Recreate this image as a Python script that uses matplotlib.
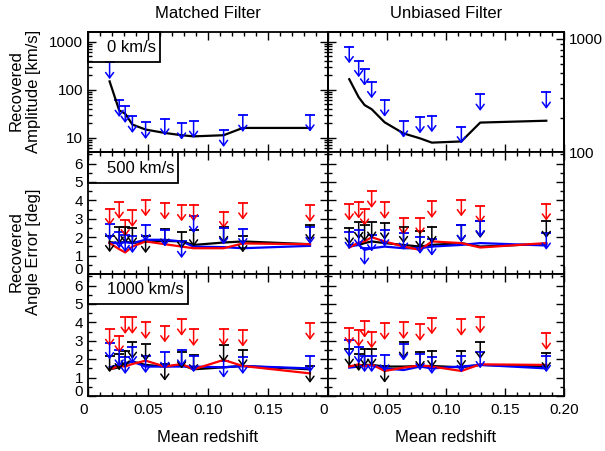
import numpy as np
import matplotlib
matplotlib.use('Agg')
import matplotlib.pyplot as plt
from matplotlib.transforms import offset_copy
from matplotlib.ticker import MultipleLocator, FixedLocator, FuncFormatter, NullFormatter
from matplotlib.patches import Rectangle

plt.rcParams['font.family'] = ['Liberation Sans', 'DejaVu Sans']
plt.rcParams['font.size'] = 11

# mean redshift of each bin
z = [0.018, 0.026, 0.031, 0.037, 0.048, 0.064, 0.078, 0.088, 0.113, 0.129, 0.185]

# 0 km/s : recovered amplitude (line) and upper limits (blue arrows)
amp_mf = [149, 37, 31.6, 18.7, 14.7, 12.5, 11.2, 10.6, 11.2, 15.9, 15.9]
amp_mf_lim = [370, 60, 45, 27.8, 20.8, 24.5, 20.2, 21.9, 14.2, 29.2, 29.7]
amp_ub = [440, 305, 260, 239, 183, 146, 132, 121, 124, 182, 189]
amp_ub_lim = [855, 643, 543, 419, 288, 188, 205, 210, 167, 324, 338]

# 500 km/s, matched filter
mf500_black = [1.73, 1.68, 1.77, 1.68, 1.77, 1.80, 1.77, 1.58, 1.71, 1.77, 1.62]
mf500_blue = [1.68, 1.68, 1.73, 1.68, 1.86, 1.86, 1.77, 1.49, 1.46, 1.40, 1.53]
mf500_red = [1.68, 1.35, 1.17, 1.49, 1.77, 1.62, 1.49, 1.40, 1.40, 1.66, 1.62]
mf500_black_lim = [2.09, 2.55, 2.58, 2.50, 2.04, 2.44, 2.28, 2.40, 2.58, 2.08, 2.68]
mf500_blue_lim = [2.73, 2.30, 2.10, 2.04, 2.68, 2.40, 1.77, 3.13, 2.50, 2.46, 2.53]
mf500_red_lim = [3.55, 3.90, 2.95, 3.46, 4.04, 3.86, 3.77, 3.77, 3.39, 3.86, 3.73]

# 500 km/s, unbiased filter
ub500_black = [1.58, 1.58, 1.68, 1.77, 1.68, 1.58, 1.49, 1.58, 1.68, 1.49, 1.64]
ub500_blue = [1.49, 1.58, 1.31, 1.40, 1.49, 1.40, 1.40, 1.49, 1.58, 1.68, 1.55]
ub500_red = [1.44, 1.71, 1.77, 2.00, 1.77, 1.49, 1.31, 1.77, 1.68, 1.44, 1.68]
ub500_black_lim = [2.50, 2.80, 2.68, 2.82, 2.77, 2.58, 2.31, 2.58, 2.64, 2.86, 2.86]
ub500_blue_lim = [2.26, 2.40, 1.40, 2.13, 2.40, 2.22, 2.00, 1.90, 2.64, 2.90, 2.22]
ub500_red_lim = [3.81, 3.92, 3.53, 4.50, 3.90, 3.04, 3.04, 3.95, 4.04, 3.68, 3.81]

# 1000 km/s, matched filter
mf1000_black = [1.45, 1.56, 1.78, 1.87, 1.69, 1.60, 1.69, 1.45, 1.56, 1.63, 1.45]
mf1000_blue = [1.56, 1.69, 1.78, 1.87, 1.60, 1.60, 1.60, 1.60, 1.56, 1.63, 1.50]
mf1000_red = [1.45, 1.63, 1.60, 1.74, 1.92, 1.60, 1.74, 1.45, 1.96, 1.63, 1.23]
mf1000_black_lim = [2.20, 2.30, 2.45, 2.92, 2.80, 1.74, 2.40, 2.24, 2.75, 2.50, 1.62]
mf1000_blue_lim = [2.90, 2.50, 2.10, 2.68, 2.15, 2.37, 2.50, 2.20, 1.90, 2.10, 2.19]
mf1000_red_lim = [3.62, 3.26, 4.28, 4.28, 4.00, 3.82, 4.18, 3.62, 3.64, 3.59, 3.95]

# 1000 km/s, unbiased filter
ub1000_black = [1.63, 1.60, 1.69, 1.69, 1.60, 1.60, 1.63, 1.63, 1.56, 1.69, 1.60]
ub1000_blue = [1.54, 1.60, 1.66, 1.66, 1.50, 1.41, 1.60, 1.50, 1.60, 1.69, 1.50]
ub1000_red = [1.60, 1.72, 1.60, 1.72, 1.36, 1.54, 1.66, 1.60, 1.36, 1.72, 1.69]
ub1000_black_lim = [2.54, 2.26, 2.54, 2.54, 1.63, 2.92, 2.41, 2.46, 2.46, 2.92, 2.35]
ub1000_blue_lim = [3.04, 2.68, 2.20, 2.20, 2.23, 2.83, 2.30, 2.10, 2.20, 2.41, 2.20]
ub1000_red_lim = [3.71, 3.59, 4.08, 3.50, 3.95, 4.00, 3.90, 4.26, 4.18, 4.31, 3.41]

W, H = 605, 451
fig = plt.figure(figsize=(W / 100, H / 100), dpi=100)


def px_axes(x0, x1, y0, y1):
    return fig.add_axes([x0 / W, 1 - y1 / H, (x1 - x0) / W, (y1 - y0) / H])


def style(ax, xlabels=None, ylabels=True):
    ax.tick_params(which='both', direction='in', top=True, right=True, width=1, labelsize=11)
    ax.tick_params(which='major', length=6)
    ax.tick_params(which='minor', length=3)
    ax.tick_params(axis='x', pad=5)
    ax.set_xlim(0, 0.2)
    ax.xaxis.set_major_locator(FixedLocator([0, 0.05, 0.1, 0.15, 0.2]))
    ax.xaxis.set_minor_locator(MultipleLocator(0.01))
    if xlabels is None:
        ax.tick_params(labelbottom=False)
    else:
        ax.set_xticklabels(xlabels)
    if not ylabels:
        ax.tick_params(labelleft=False)
    for s in ax.spines.values():
        s.set_linewidth(1.3)


def limits(ax, xs, ys, color):
    down = offset_copy(ax.transData, fig=fig, x=0, y=-12, units='points')
    for x, y in zip(xs, ys):
        ax.annotate('', xy=(x, y), xycoords=down, xytext=(x, y), textcoords='data',
                    arrowprops=dict(arrowstyle='->,head_length=0.35,head_width=0.26',
                                    color=color, lw=1.1, shrinkA=0, shrinkB=0))
    ax.plot(xs, ys, ls='none', marker='_', ms=7, mew=1.3, color=color)


def label_box(ax, text, xr, yb):
    ax.add_patch(Rectangle((0, yb), xr, 1 - yb, transform=ax.transAxes, fill=False,
                           lw=1.3, ec='black', clip_on=False, zorder=5))
    ax.text(0.078, (1 + yb) / 2 - 0.005, text, transform=ax.transAxes, ha='left', va='center', fontsize=12)


def angle_axis(ax):
    ax.set_ylim(0, 6.63)
    ax.yaxis.set_major_locator(FixedLocator(range(7)))
    ax.yaxis.set_minor_locator(MultipleLocator(0.5))


logfmt = FuncFormatter(lambda v, p: f'{v:g}')
x_left = ['0', '0.05', '0.10', '0.15', '']
x_right = ['0', '0.05', '0.10', '0.15', '0.20']

# ---- row 1 : amplitude
ax1 = px_axes(88, 328, 32, 152)
ax1.set_yscale('log')
ax1.set_ylim(5, 1600)
style(ax1)
ax1.yaxis.set_major_formatter(logfmt)
ax1.yaxis.set_minor_formatter(NullFormatter())
limits(ax1, z, amp_mf_lim, 'blue')
ax1.plot(z, amp_mf, color='black', lw=1.6)
label_box(ax1, '0 km/s', 0.30, 0.75)

ax2 = px_axes(328, 564, 32, 152)
ax2.set_yscale('log')
ax2.set_ylim(5, 1600)
style(ax2, ylabels=False)
ax2.tick_params(which='both', right=False)
tw = ax2.twinx()
tw.set_yscale('log')
tw.set_ylim(100, 1150)
tw.tick_params(which='both', direction='in', left=False, right=True, labelright=True, width=1, labelsize=11)
tw.tick_params(which='major', length=6)
tw.tick_params(which='minor', length=3)
tw.yaxis.set_major_formatter(logfmt)
tw.yaxis.set_minor_formatter(NullFormatter())
for s in tw.spines.values():
    s.set_linewidth(1.3)
limits(tw, z, amp_ub_lim, 'blue')
tw.plot(z, amp_ub, color='black', lw=1.6)

# ---- rows 2 and 3 : angle error
rows = [
    (152, 274, '500 km/s', 0.375, 0.746,
     (mf500_black, mf500_blue, mf500_red, mf500_black_lim, mf500_blue_lim, mf500_red_lim),
     (ub500_black, ub500_blue, ub500_red, ub500_black_lim, ub500_blue_lim, ub500_red_lim)),
    (274, 396, '1000 km/s', 0.417, 0.754,
     (mf1000_black, mf1000_blue, mf1000_red, mf1000_black_lim, mf1000_blue_lim, mf1000_red_lim),
     (ub1000_black, ub1000_blue, ub1000_red, ub1000_black_lim, ub1000_blue_lim, ub1000_red_lim)),
]
for i, (y0, y1, txt, bw, bb, left, right) in enumerate(rows):
    last = i == len(rows) - 1
    for j, series in enumerate((left, right)):
        ax = px_axes(88, 328, y0, y1) if j == 0 else px_axes(328, 564, y0, y1)
        angle_axis(ax)
        xl = (x_left if j == 0 else x_right) if last else None
        style(ax, xlabels=xl, ylabels=(j == 0))
        blk, blu, red, blk_l, blu_l, red_l = series
        limits(ax, z, red_l, 'red')
        limits(ax, z, blk_l, 'black')
        limits(ax, z, blu_l, 'blue')
        ax.plot(z, blk, color='black', lw=1.6)
        ax.plot(z, blu, color='blue', lw=1.6)
        ax.plot(z, red, color='red', lw=1.6)
        fig.canvas.draw()
        if j == 0:
            label_box(ax, txt, bw, bb)
            ax.yaxis.get_major_ticks()[0].label1.set_verticalalignment('baseline')
        if last:
            ax.xaxis.get_major_ticks()[0].label1.set_horizontalalignment('right')

fig.text(208 / W, 1 - 13 / H, 'Matched Filter', ha='center', va='center', fontsize=12)
fig.text(446 / W, 1 - 13 / H, 'Unbiased Filter', ha='center', va='center', fontsize=12)
fig.text(208 / W, 1 - 437 / H, 'Mean redshift', ha='center', va='center', fontsize=12)
fig.text(446 / W, 1 - 437 / H, 'Mean redshift', ha='center', va='center', fontsize=12)
fig.text(25 / W, 1 - 91 / H, 'Recovered\nAmplitude [km/s]', rotation=90,
         ha='center', va='center', multialignment='center', fontsize=12)
fig.text(25 / W, 1 - 252 / H, 'Recovered\nAngle Error [deg]', rotation=90,
         ha='center', va='center', multialignment='center', fontsize=12)

fig.savefig('out.png', dpi=100)
